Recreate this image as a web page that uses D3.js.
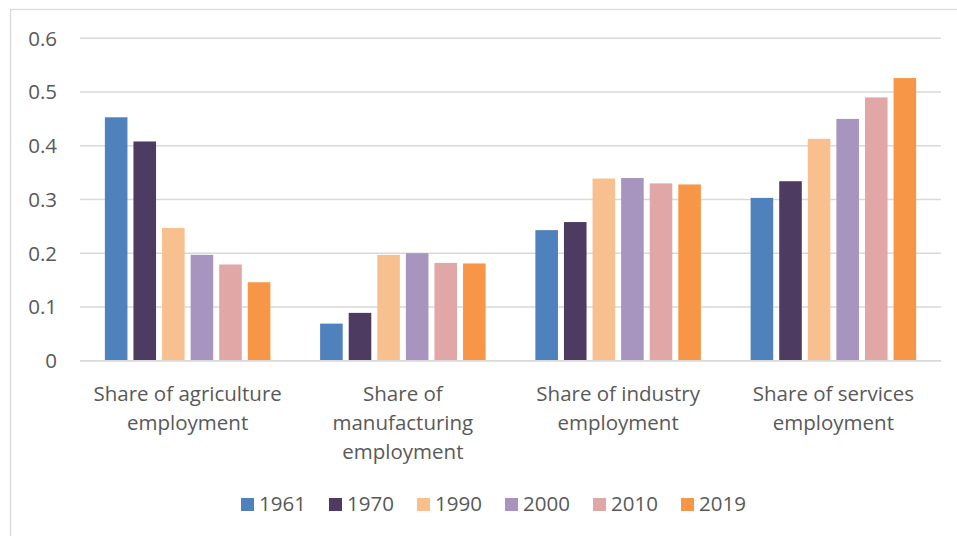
<!DOCTYPE html>
<html>
<head>
<meta charset="utf-8">
<script src="https://cdn.jsdelivr.net/npm/d3@7"></script>
<style>
  html, body { margin: 0; padding: 0; background: #fff; }
  svg { display: block; }
  text { font-family: "Open Sans", "Liberation Sans", sans-serif; fill: #595959; }
</style>
</head>
<body>
<svg id="chart" width="957" height="536"></svg>
<script>
const categories = [
  ["Share of agriculture", "employment"],
  ["Share of", "manufacturing", "employment"],
  ["Share of industry", "employment"],
  ["Share of services", "employment"]
];
const years = ["1961", "1970", "1990", "2000", "2010", "2019"];
const colors = ["#4F81BD", "#4E3B62", "#F9C08F", "#A794BF", "#E0A7A6", "#F79646"];
const v1961 = [0.453, 0.069, 0.243, 0.303];
const v1970 = [0.408, 0.089, 0.258, 0.334];
const v1990 = [0.247, 0.197, 0.339, 0.413];
const v2000 = [0.197, 0.200, 0.340, 0.450];
const v2010 = [0.179, 0.182, 0.330, 0.490];
const v2019 = [0.146, 0.181, 0.328, 0.526];
const yTicks = [0, 0.1, 0.2, 0.3, 0.4, 0.5, 0.6];
const yTickLabels = ["0", "0.1", "0.2", "0.3", "0.4", "0.5", "0.6"];

const series = [v1961, v1970, v1990, v2000, v2010, v2019];
const catIdx = categories.map((c, i) => i);

const svg = d3.select("#chart");
const fs = 20.5;

// chart frame (only left and top edges visible)
svg.append("rect").attr("x", 10.5).attr("y", 9.5).attr("width", 1000).attr("height", 700)
  .attr("fill", "none").attr("stroke", "#d9d9d9").attr("stroke-width", 1.3);

const x0 = d3.scaleBand().domain(catIdx).range([80, 941]).padding(0);
const x1 = d3.scaleBand().domain(years).range([0, x0.bandwidth()])
  .paddingInner(0.21).paddingOuter(0.87);
const y = d3.scaleLinear().domain([0, 0.6]).range([360.7, 38.3]);

// gridlines
svg.append("g").selectAll("line").data(yTicks).join("line")
  .attr("x1", 80).attr("x2", 941)
  .attr("y1", d => y(d)).attr("y2", d => y(d))
  .attr("stroke", "#d9d9d9").attr("stroke-width", 1.4);

// y tick labels
svg.append("g").selectAll("text").data(yTicks).join("text")
  .attr("x", 57).attr("y", d => y(d)).attr("dy", "0.36em")
  .attr("text-anchor", "end").attr("font-size", fs)
  .text((d, i) => yTickLabels[i]);

// bars
const groups = svg.append("g").selectAll("g").data(catIdx).join("g")
  .attr("transform", c => `translate(${x0(c)},0)`);
groups.selectAll("rect").data(c => years.map((yr, k) => ({yr, k, v: series[k][c]}))).join("rect")
  .attr("x", d => x1(d.yr)).attr("width", x1.bandwidth())
  .attr("y", d => y(d.v)).attr("height", d => y(0) - y(d.v))
  .attr("fill", d => colors[d.k]);

// baseline
svg.append("line").attr("x1", 80).attr("x2", 941).attr("y1", y(0)).attr("y2", y(0))
  .attr("stroke", "#d9d9d9").attr("stroke-width", 1.4);

// category labels
const lab = svg.append("g").selectAll("text").data(catIdx).join("text")
  .attr("text-anchor", "middle").attr("font-size", fs);
lab.selectAll("tspan").data(c => categories[c].map(t => ({t, c}))).join("tspan")
  .attr("x", d => x0(d.c) + x0.bandwidth() / 2)
  .attr("y", (d, i) => 400.5 + i * 29)
  .text(d => d.t);

// legend
const leg = svg.append("g").selectAll("g").data(years).join("g")
  .attr("transform", (d, i) => `translate(${241 + i * 88},0)`);
leg.append("rect").attr("x", 0).attr("y", 498).attr("width", 13).attr("height", 13)
  .attr("fill", (d, i) => colors[i]);
leg.append("text").attr("x", 18).attr("y", 511).attr("font-size", fs).text(d => d);
</script>
</body>
</html>
